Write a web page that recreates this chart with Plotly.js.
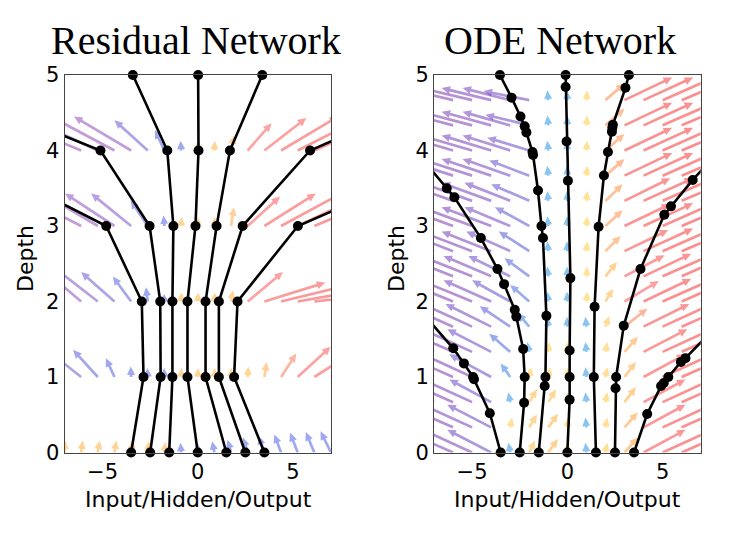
<!DOCTYPE html>
<html>
<head>
<meta charset="utf-8">
<script src="https://cdn.plot.ly/plotly-3.0.1.min.js"></script>
<style>html,body{margin:0;padding:0;background:#fff}#chart{width:729px;height:533px}</style>
</head>
<body>
<div id="chart"></div>
<script>
// ---------------- DATA ----------------
// Residual network: hidden state x at each integer depth (0..5)
const resDepths = [0, 1, 2, 3, 4, 5];
const resPaths = [
  [-3.5, -2.85, -2.94, -4.81, -12.6],
  [-2.5, -1.95, -1.97, -2.53, -5.11, -15.0],
  [-1.5, -1.33, -1.33, -1.28, -1.6, -3.41],
  [0.0, -0.54, -0.54, -0.12, 0.04, 0.02],
  [1.5, 0.41, 0.41, 0.99, 1.69, 3.39],
  [2.5, 1.11, 1.11, 2.36, 5.9, 15.0],
  [3.5, 1.91, 2.09, 5.26, 14.4]
];
// Residual network update field (arrows at each depth row)
const resCols = [-7, -6.125, -5.25, -4.375, -3.5, -2.625, -1.75, -0.875, 0, 0.875, 1.75, 2.625, 3.5, 4.375, 5.25, 6.125, 7];
const resRows = [0, 1, 2, 3, 4];
const resU = [
  [0.05, 0.08, 0.1, 0.1, 0.1, 0.05, 0.05, -0.03, -0.03, -0.12, -0.18, -0.25, -0.3, -0.35, -0.4, -0.45, -0.55],
  [-2.5, -1.9, -1.3, -0.45, -0.02, -0.02, -0.02, 0.02, 0.02, 0.02, 0.02, 0.03, 0.12, 0.8, 1.73, 2.5, 3.0],
  [-3.0, -2.6, -2.3, -1.75, -0.96, -0.1, -0.02, 0.02, 0.02, 0.02, 0.1, 1.85, 3.2, 3.6, 4.0, 4.2, 4.4],
  [-4.0, -3.5, -3.0, -2.6, -2.1, -0.9, -0.05, 0.02, 0.02, 0.02, 0.15, 1.7, 2.7, 3.3, 3.8, 4.2, 4.5],
  [-5.0, -4.5, -4.0, -3.5, -3.0, -1.75, -0.5, -0.02, 0.02, 0.02, 0.15, 1.25, 2.2, 3.0, 3.5, 4.0, 4.5]
];
const resV = [
  [0.16, 0.16, 0.16, 0.16, 0.16, 0.15, 0.14, 0.13, 0.13, 0.15, 0.17, 0.2, 0.22, 0.24, 0.26, 0.27, 0.28],
  [0.4, 0.38, 0.36, 0.25, 0.14, 0.12, 0.12, 0.12, 0.12, 0.12, 0.12, 0.14, 0.2, 0.31, 0.4, 0.4, 0.4],
  [0.6, 0.55, 0.45, 0.39, 0.33, 0.19, 0.1, 0.12, 0.12, 0.12, 0.15, 0.39, 0.25, 0.22, 0.18, 0.12, 0.08],
  [0.45, 0.45, 0.45, 0.43, 0.43, 0.34, 0.14, 0.12, 0.12, 0.12, 0.25, 0.39, 0.43, 0.45, 0.45, 0.45, 0.45],
  [0.47, 0.47, 0.47, 0.47, 0.45, 0.4, 0.27, 0.13, 0.13, 0.13, 0.2, 0.36, 0.43, 0.45, 0.45, 0.45, 0.45]
];

// ODE network: trajectories (x, depth)
const odePathX = [
  [-3.5, -4.07, -4.9, -4.95, -5.43, -5.99, -8.0],
  [-2.5, -2.27, -2.24, -2.32, -2.68, -2.76, -3.32, -3.67, -4.54, -5.93, -6.33, -8.0],
  [-1.5, -1.19, -1.15, -1.1, -1.28, -1.36, -1.54, -1.8, -1.83, -2.15, -2.24, -2.46, -2.93, -3.54],
  [0.0, 0.12, 0.12, 0.12, 0.16, 0.03, -0.04, -0.09, -0.09],
  [1.5, 1.39, 1.43, 1.64, 1.92, 2.13, 2.34, 2.36, 2.39, 3.05, 3.23],
  [2.5, 2.53, 2.56, 2.96, 3.84, 5.09, 5.44, 6.58, 8.0],
  [3.5, 4.19, 4.92, 5.06, 5.3, 5.96, 6.2, 8.0]
];
const odePathT = [
  [0, 0.52, 0.97, 1.0, 1.18, 1.38, 1.96],
  [0, 0.66, 1.0, 1.37, 1.8, 1.89, 2.23, 2.43, 2.84, 3.38, 3.5, 4.0],
  [0, 0.88, 1.0, 1.81, 2.84, 3.0, 3.47, 3.94, 3.98, 4.24, 4.32, 4.45, 4.7, 5.0],
  [0, 0.7, 1.0, 1.35, 2.31, 3.6, 4.12, 4.84, 5.0],
  [0, 1.0, 1.93, 2.99, 3.67, 3.98, 4.25, 4.3, 4.34, 4.83, 5.0],
  [0, 0.85, 1.0, 1.68, 2.43, 3.15, 3.26, 3.61, 4.0],
  [0, 0.51, 0.88, 0.92, 1.0, 1.2, 1.25, 1.72]
];
// ODE vector field
const odeCols = [-7, -6, -5, -4, -3, -2, -1, 0, 1, 2, 3, 4, 5, 6, 7];
const odeRows = [0, 0.333, 0.667, 1, 1.333, 1.667, 2, 2.333, 2.667, 3, 3.333, 3.667, 4, 4.333, 4.667];
const odeU = [
  [-2.8, -2.7, -2.6, -2.3, -0.1, 0.3, 0.5, 0.02, -0.05, 0.1, 0.7, 2.2, 2.6, 2.7, 2.8],
  [-2.8, -2.7, -2.6, -2.3, 0.1, 0.4, 0.5, 0.02, -0.05, 0.1, 0.7, 2.2, 2.6, 2.7, 2.8],
  [-2.8, -2.7, -2.6, -2.2, -0.1, 0.4, 0.4, 0.02, -0.05, 0.1, 0.6, 2.2, 2.6, 2.7, 2.8],
  [-2.8, -2.7, -2.6, -2.2, -0.5, 0.1, 0.1, 0.02, -0.05, 0.1, 0.6, 2.2, 2.6, 2.7, 2.8],
  [-2.8, -2.7, -2.6, -2.3, -1.1, -0.1, 0.05, 0.02, -0.05, 0.1, 0.7, 2.3, 2.6, 2.7, 2.8],
  [-2.8, -2.7, -2.6, -2.4, -1.6, -0.6, -0.05, -0.02, -0.05, 0.2, 1.2, 2.4, 2.6, 2.7, 2.8],
  [-2.8, -2.7, -2.7, -2.5, -2.0, -1.0, -0.05, -0.02, 0.05, 0.4, 1.8, 2.5, 2.7, 2.7, 2.8],
  [-2.8, -2.7, -2.7, -2.5, -2.2, -1.3, -0.05, -0.02, 0.05, 0.6, 2.1, 2.5, 2.7, 2.7, 2.8],
  [-2.8, -2.7, -2.7, -2.6, -2.3, -1.6, -0.05, -0.02, 0.05, 0.8, 2.3, 2.6, 2.7, 2.8, 2.8],
  [-2.8, -2.7, -2.7, -2.6, -2.4, -1.8, -0.05, -0.02, 0.05, 0.9, 2.4, 2.6, 2.7, 2.8, 2.8],
  [-2.8, -2.7, -2.7, -2.6, -2.4, -2.0, -0.05, -0.02, 0.05, 0.9, 2.4, 2.6, 2.7, 2.8, 2.8],
  [-2.8, -2.7, -2.7, -2.6, -2.5, -2.1, -0.05, -0.02, 0.05, 1.0, 2.5, 2.6, 2.7, 2.8, 2.8],
  [-2.8, -2.7, -2.7, -2.6, -2.5, -2.2, -0.05, -0.02, 0.05, 1.0, 2.5, 2.6, 2.7, 2.8, 2.8],
  [-2.8, -2.7, -2.7, -2.6, -2.5, -2.3, -0.05, -0.02, 0.05, 1.0, 2.5, 2.6, 2.7, 2.8, 2.8],
  [-2.8, -2.7, -2.7, -2.6, -2.5, -2.4, -0.05, -0.02, 0.05, 1.0, 2.5, 2.6, 2.7, 2.8, 2.8]
];
const odeV = [
  [0.3, 0.3, 0.3, 0.3, 0.13, 0.16, 0.18, 0.13, 0.13, 0.13, 0.2, 0.3, 0.3, 0.3, 0.3],
  [0.3, 0.3, 0.3, 0.3, 0.13, 0.17, 0.18, 0.13, 0.13, 0.13, 0.2, 0.3, 0.3, 0.3, 0.3],
  [0.3, 0.3, 0.3, 0.3, 0.13, 0.17, 0.17, 0.13, 0.13, 0.13, 0.2, 0.3, 0.3, 0.3, 0.3],
  [0.3, 0.3, 0.3, 0.3, 0.18, 0.13, 0.13, 0.13, 0.13, 0.13, 0.2, 0.3, 0.3, 0.3, 0.3],
  [0.3, 0.3, 0.3, 0.3, 0.24, 0.13, 0.13, 0.13, 0.13, 0.13, 0.2, 0.3, 0.3, 0.3, 0.3],
  [0.3, 0.3, 0.3, 0.3, 0.27, 0.18, 0.13, 0.13, 0.13, 0.14, 0.24, 0.3, 0.3, 0.3, 0.3],
  [0.28, 0.28, 0.28, 0.28, 0.28, 0.22, 0.13, 0.13, 0.13, 0.17, 0.27, 0.3, 0.3, 0.3, 0.3],
  [0.27, 0.27, 0.27, 0.27, 0.27, 0.24, 0.13, 0.13, 0.13, 0.19, 0.28, 0.3, 0.3, 0.3, 0.3],
  [0.26, 0.26, 0.26, 0.26, 0.26, 0.26, 0.13, 0.13, 0.13, 0.2, 0.28, 0.3, 0.3, 0.3, 0.3],
  [0.25, 0.25, 0.25, 0.25, 0.25, 0.25, 0.13, 0.13, 0.13, 0.21, 0.29, 0.3, 0.3, 0.3, 0.3],
  [0.24, 0.24, 0.24, 0.24, 0.24, 0.22, 0.13, 0.13, 0.13, 0.22, 0.3, 0.3, 0.3, 0.3, 0.3],
  [0.22, 0.22, 0.22, 0.22, 0.22, 0.2, 0.13, 0.13, 0.13, 0.22, 0.3, 0.3, 0.3, 0.3, 0.3],
  [0.2, 0.2, 0.2, 0.2, 0.2, 0.17, 0.13, 0.13, 0.13, 0.22, 0.3, 0.3, 0.3, 0.3, 0.3],
  [0.18, 0.18, 0.18, 0.18, 0.18, 0.14, 0.13, 0.13, 0.13, 0.22, 0.3, 0.3, 0.3, 0.3, 0.3],
  [0.16, 0.16, 0.16, 0.16, 0.16, 0.12, 0.13, 0.13, 0.13, 0.22, 0.3, 0.3, 0.3, 0.3, 0.3]
];

const titles = ['Residual Network', 'ODE Network'];
const xLabel = 'Input/Hidden/Output';
const yLabel = 'Depth';
const xTicks = [-5, 0, 5];
const yTicks = [0, 1, 2, 3, 4, 5];

// ---------------- STYLE / GEOMETRY ----------------
const W = 729, H = 533;
const PLOT_L = [64.5, 331], PLOT_R = [434, 700.7], PLOT_T = 75, PLOT_B = 452.5;
const XR = [-7, 7], YR = [0, 5];
const HEAD_L = 8.5, HEAD_W = 8, SHAFT_W = 2.7, ALPHA = 0.55;

const resStops = [
  [-4.0, [150, 70, 180]], [-2.5, [140, 80, 190]], [-1.5, [95, 90, 215]], [-0.01, [80, 100, 230]],
  [0.01, [255, 180, 60]], [0.5, [255, 140, 90]], [1.2, [250, 90, 90]], [4.0, [245, 70, 70]]
];
const odeStops = [
  [-2.8, [125, 50, 170]], [-2.3, [110, 70, 195]], [-1.5, [80, 90, 215]], [-0.6, [60, 120, 230]], [-0.01, [40, 150, 230]],
  [0.01, [255, 205, 60]], [0.7, [255, 160, 60]], [1.6, [250, 90, 90]], [2.8, [245, 50, 50]]
];

function lerpColor(u, stops) {
  if (u <= stops[0][0]) return stops[0][1];
  for (let i = 1; i < stops.length; i++) {
    if (u <= stops[i][0]) {
      const a = stops[i - 1], b = stops[i];
      const f = (u - a[0]) / (b[0] - a[0]);
      return a[1].map((c, j) => Math.round(c + (b[1][j] - c) * f));
    }
  }
  return stops[stops.length - 1][1];
}

function arrowTrace(x0, y0, u, v, sx, sy, rgb, xa, ya) {
  const px = u * sx, py = v * sy;
  const L = Math.hypot(px, py);
  const dx = px / L, dy = py / L, nx = -dy, ny = dx;
  const hl = Math.min(HEAD_L, L), hw = HEAD_W / 2, sw = SHAFT_W / 2;
  const bx = px - dx * hl, by = py - dy * hl;
  const pts = [
    [nx * sw, ny * sw], [bx + nx * sw, by + ny * sw], [bx + nx * hw, by + ny * hw], [px, py],
    [bx - nx * hw, by - ny * hw], [bx - nx * sw, by - ny * sw], [-nx * sw, -ny * sw], [nx * sw, ny * sw]
  ];
  return {
    type: 'scatter', mode: 'lines', xaxis: xa, yaxis: ya,
    x: pts.map(p => x0 + p[0] / sx), y: pts.map(p => y0 + p[1] / sy),
    fill: 'toself', fillcolor: `rgba(${rgb[0]},${rgb[1]},${rgb[2]},${ALPHA})`,
    line: { width: 0, color: 'rgba(0,0,0,0)' }, hoverinfo: 'skip', showlegend: false
  };
}

const traces = [];
{
  const sx = (PLOT_L[1] - PLOT_L[0]) / (XR[1] - XR[0]);
  const sy = (PLOT_B - PLOT_T) / (YR[1] - YR[0]);
  resRows.forEach((d, r) => resCols.forEach((x, c) => {
    traces.push(arrowTrace(x, d, resU[r][c], resV[r][c], sx, sy, lerpColor(resU[r][c], resStops), 'x', 'y'));
  }));
}
{
  const sx = (PLOT_R[1] - PLOT_R[0]) / (XR[1] - XR[0]);
  const sy = (PLOT_B - PLOT_T) / (YR[1] - YR[0]);
  odeRows.forEach((t, r) => odeCols.forEach((x, c) => {
    traces.push(arrowTrace(x, t, odeU[r][c], odeV[r][c], sx, sy, lerpColor(odeU[r][c], odeStops), 'x2', 'y2'));
  }));
}
resPaths.forEach(p => traces.push({
  type: 'scatter', mode: 'lines', x: p, y: resDepths.slice(0, p.length), xaxis: 'x', yaxis: 'y',
  line: { color: 'black', width: 2.6 }, hoverinfo: 'skip', showlegend: false
}));
odePathX.forEach((p, i) => traces.push({
  type: 'scatter', mode: 'lines', x: p, y: odePathT[i], xaxis: 'x2', yaxis: 'y2',
  line: { color: 'black', width: 2.6 }, hoverinfo: 'skip', showlegend: false
}));
{
  const mx = [], my = [];
  resPaths.forEach(p => p.forEach((x, i) => { if (x >= XR[0] && x <= XR[1]) { mx.push(x); my.push(resDepths[i]); } }));
  traces.push({ type: 'scatter', mode: 'markers', x: mx, y: my, xaxis: 'x', yaxis: 'y', cliponaxis: false,
    marker: { color: 'black', size: 10 }, hoverinfo: 'skip', showlegend: false });
  const ox = [], oy = [];
  odePathX.forEach((p, k) => p.forEach((x, i) => { if (x >= XR[0] && x <= XR[1]) { ox.push(x); oy.push(odePathT[k][i]); } }));
  traces.push({ type: 'scatter', mode: 'markers', x: ox, y: oy, xaxis: 'x2', yaxis: 'y2', cliponaxis: false,
    marker: { color: 'black', size: 10 }, hoverinfo: 'skip', showlegend: false });
}

const tickFont = { family: 'DejaVu Sans', size: 21, color: 'black' };
function xAxis(px) {
  return { domain: [px[0] / W, px[1] / W], range: XR, tickvals: xTicks, ticks: '', showgrid: false, zeroline: false,
    showline: true, mirror: true, linecolor: '#444', linewidth: 1, tickfont: tickFont, fixedrange: true };
}
function yAxis(anchor) {
  return { domain: [1 - PLOT_B / H, 1 - PLOT_T / H], range: YR, tickvals: yTicks, ticks: '', showgrid: false, zeroline: false,
    showline: true, mirror: true, linecolor: '#444', linewidth: 1, tickfont: tickFont, anchor: anchor, fixedrange: true };
}
const labelFont = { family: 'DejaVu Sans', size: 22, color: 'black' };
const titleFont = { family: 'Liberation Serif', size: 40, color: 'black' };
const ann = (text, xpx, ypx, font, angle) => ({
  text, x: xpx / W, y: 1 - ypx / H, xref: 'paper', yref: 'paper', showarrow: false,
  xanchor: 'center', yanchor: 'middle', font, textangle: angle || 0
});

const layout = {
  width: W, height: H, margin: { l: 0, r: 0, t: 0, b: 0 },
  paper_bgcolor: 'white', plot_bgcolor: 'white', showlegend: false,
  xaxis: xAxis(PLOT_L), yaxis: yAxis('x'),
  xaxis2: xAxis(PLOT_R), yaxis2: yAxis('x2'),
  annotations: [
    ann(titles[0], 196, 41, titleFont), ann(titles[1], 560, 41, titleFont),
    ann(xLabel, 198, 499, labelFont), ann(xLabel, 567.5, 499, labelFont),
    ann(yLabel, 26, 259, labelFont, -90), ann(yLabel, 397, 259, labelFont, -90)
  ]
};

Plotly.newPlot('chart', traces, layout, { staticPlot: true, displayModeBar: false });
</script>
</body>
</html>
